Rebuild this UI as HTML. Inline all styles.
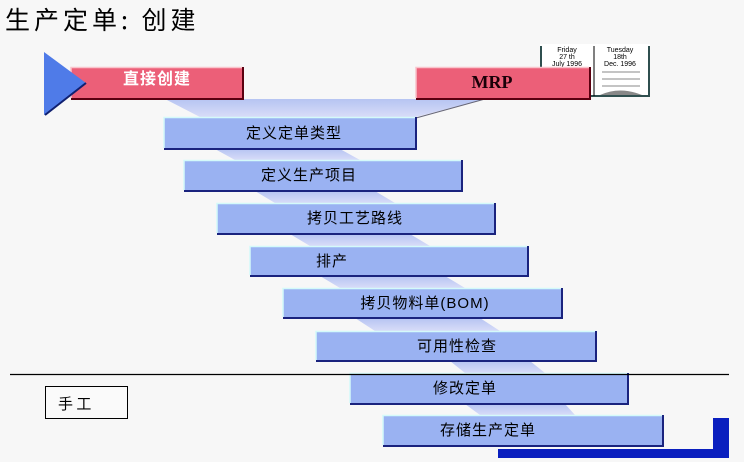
<!DOCTYPE html>
<html><head><meta charset="utf-8"><style>
body{margin:0;background:#f7f7f7;}
svg{display:block}
</style></head><body>
<svg width="744" height="462" viewBox="0 0 744 462" xmlns="http://www.w3.org/2000/svg" style="font-family:'Liberation Sans','Noto Sans CJK SC',sans-serif">
<defs>
<linearGradient id="bd" x1="0" y1="0" x2="0" y2="1"><stop offset="0" stop-color="#b6c4f2"/><stop offset="1" stop-color="#d8dcf8"/></linearGradient>
</defs>
<rect width="744" height="462" fill="#f7f7f7"/>
<text x="5" y="29" font-size="25" fill="#000" style="font-family:'Noto Sans CJK SC',sans-serif;letter-spacing:4px">生产定单: 创建</text>

<polygon points="165,99 485,99 416,117 200,117" fill="url(#bd)"/>
<line x1="485" y1="99" x2="416" y2="118" stroke="#667" stroke-width="1"/>
<g fill="url(#bd)">
<polygon points="215,149 340,149 360,160 235,160"/>
<polygon points="255,191 375,191 395,203 275,203"/>
<polygon points="290,234 410,234 430,246 310,246"/>
<polygon points="320,276 445,276 465,288 340,288"/>
<polygon points="355,318 480,318 500,331 375,331"/>
<polygon points="450,361 530,361 545,373 465,373"/>
<polygon points="465,404 565,404 575,415 480,415"/>
</g>

<g fill="#9ab2f2" stroke="none">
<rect x="164" y="117" width="252" height="32"/>
<rect x="184" y="160" width="278" height="31"/>
<rect x="217" y="203" width="278" height="31"/>
<rect x="250" y="246" width="278" height="30"/>
<rect x="283" y="288" width="279" height="30"/>
<rect x="316" y="331" width="280" height="30"/>
<rect x="350" y="373" width="278" height="31"/>
<rect x="383" y="415" width="280" height="31"/>
</g>
<g stroke="#1a237e" stroke-width="2" fill="none">
<polyline points="164,149 416,149 416,117"/>
<polyline points="184,191 462,191 462,160"/>
<polyline points="217,234 495,234 495,203"/>
<polyline points="250,276 528,276 528,246"/>
<polyline points="283,318 562,318 562,288"/>
<polyline points="316,361 596,361 596,331"/>
<polyline points="350,404 628,404 628,373"/>
<polyline points="383,446 663,446 663,415"/>
</g>
<g stroke="#d4fafa" stroke-width="1.5" fill="none">
<polyline points="164,148 164,117.5 415,117.5"/>
<polyline points="184,190 184,160.5 461,160.5"/>
<polyline points="217,233 217,203.5 494,203.5"/>
<polyline points="250,275 250,246.5 527,246.5"/>
<polyline points="283,317 283,288.5 561,288.5"/>
<polyline points="316,360 316,331.5 595,331.5"/>
<polyline points="350,403 350,373.5 627,373.5"/>
<polyline points="383,445 383,415.5 662,415.5"/>
</g>
<g font-size="15" fill="#000" text-anchor="middle" style="font-family:'Liberation Sans','Noto Sans CJK SC',sans-serif;letter-spacing:1px">
<text x="294" y="138">定义定单类型</text>
<text x="309" y="180">定义生产项目</text>
<text x="355" y="223">拷贝工艺路线</text>
<text x="332" y="266">排产</text>
<text x="425" y="308">拷贝物料单(BOM)</text>
<text x="457" y="351">可用性检查</text>
<text x="465" y="393">修改定单</text>
<text x="488" y="435">存储生产定单</text>
</g>

<line x1="10" y1="374.5" x2="729" y2="374.5" stroke="#000" stroke-width="1.2"/>
<rect x="45.5" y="386.5" width="82" height="32" fill="#fafafa" stroke="#000" stroke-width="1"/>
<text x="58" y="409" font-size="15" style="font-family:'Noto Sans CJK SC',sans-serif">手 工</text>

<rect x="713" y="418" width="16" height="40" fill="#0a1fbf"/>
<rect x="498" y="449" width="231" height="9" fill="#0a1fbf"/>

<g>
<rect x="540" y="44" width="110" height="53" fill="#fff"/>
<polyline points="541,46 541,96 649,96 649,46" fill="none" stroke="#2f4f4f" stroke-width="2"/>
<line x1="594" y1="46" x2="594" y2="96" stroke="#000" stroke-width="1"/>
<g font-size="7" text-anchor="middle" fill="#000">
<text x="567" y="52">Friday</text><text x="567" y="59">27 th</text><text x="567" y="66">July 1996</text>
<text x="620" y="52">Tuesday</text><text x="620" y="59">18th</text><text x="620" y="66">Dec. 1996</text>
</g>
<g stroke="#888" stroke-width="1"><line x1="602" y1="72" x2="640" y2="72"/><line x1="602" y1="79" x2="640" y2="79"/><line x1="602" y1="86" x2="640" y2="86"/></g>
<path d="M600,95 Q620,86 642,95 Z" fill="#888"/>
</g>

<rect x="71" y="67" width="172" height="32" fill="#ec5f78"/>
<polyline points="71,99 243,99 243,67" fill="none" stroke="#5a0010" stroke-width="2"/>
<polyline points="71,98 71,67.5 242,67.5" fill="none" stroke="#f9c4cc" stroke-width="1.5"/>
<text x="157" y="84" font-size="16" fill="#fff" text-anchor="middle" font-weight="bold" style="font-family:'Noto Sans CJK SC',sans-serif;letter-spacing:1px">直接创建</text>
<rect x="416" y="67" width="174" height="32" fill="#ec5f78"/>
<polyline points="416,99 590,99 590,67" fill="none" stroke="#5a0010" stroke-width="2"/>
<polyline points="416,98 416,67.5 589,67.5" fill="none" stroke="#f9c4cc" stroke-width="1.5"/>
<text x="492" y="88" font-size="18" font-weight="bold" fill="#1a0008" text-anchor="middle" style="font-family:'Liberation Serif',serif">MRP</text>

<polygon points="44,52 86,83 44,115" fill="#4f7be8"/>
<line x1="86" y1="83" x2="45" y2="115" stroke="#102070" stroke-width="2"/>
</svg>
</body></html>
